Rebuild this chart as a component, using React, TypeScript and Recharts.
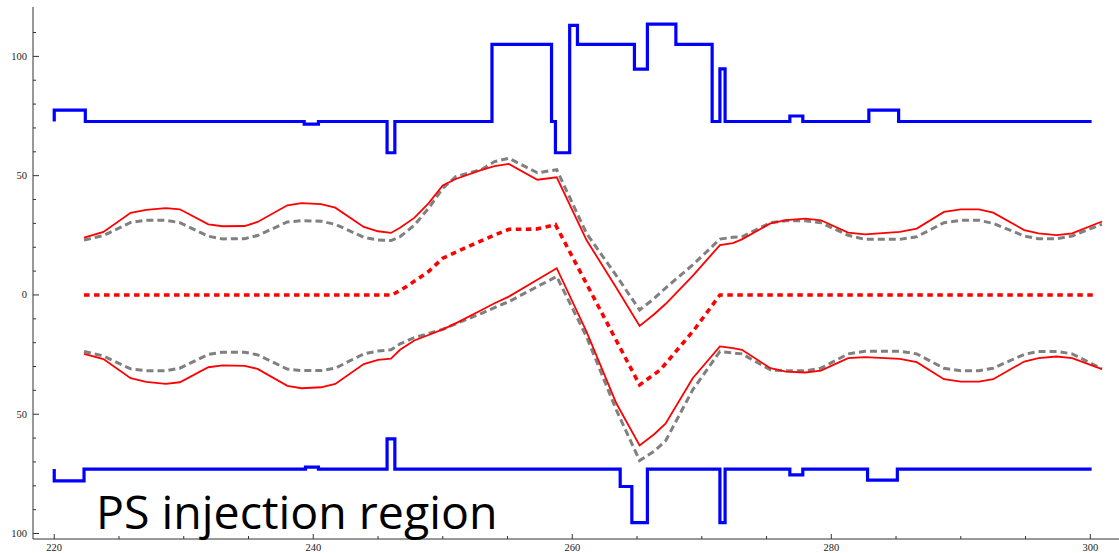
import React from 'react';
import { LineChart, Line, XAxis, YAxis } from 'recharts';

// lattice positions shared by the envelope curves
const envS = [
  222.3, 223.8, 225.9, 227.1, 228.6, 229.7, 231.9, 233.0, 234.7, 235.7, 238.0, 239.1, 240.6, 241.7,
  243.9, 245.0, 246.0, 246.7, 247.8, 248.9, 250.0, 251.0, 253.0, 254.0, 255.1, 257.3, 258.8, 261.1,
  263.4, 265.2, 266.3, 267.2, 269.3, 271.4, 272.4, 273.1, 275.3, 276.5, 278.0, 279.2, 281.3, 282.6,
  285.3, 286.6, 288.7, 290.0, 291.4, 292.5, 294.9, 296.0, 297.4, 298.6, 300.9,
];
const redUpper = [
  24.0, 26.4, 34.4, 35.7, 36.4, 35.9, 29.6, 28.8, 28.9, 30.6, 37.6, 38.5, 38.1, 36.6,
  28.5, 26.7, 26.0, 28.2, 32.3, 38.4, 45.9, 48.6, 52.4, 54.0, 54.9, 48.3, 49.3, 23.0,
  3.0, -13.0, -8.2, -3.8, 8.0, 20.9, 21.7, 23.3, 30.0, 31.4, 32.0, 31.3, 26.1, 25.4,
  26.4, 27.8, 34.8, 35.9, 35.9, 34.5, 27.2, 25.8, 25.1, 25.8, 30.8,
];
const grayUpper = [
  23.0, 24.9, 30.4, 31.3, 31.3, 30.3, 24.6, 23.5, 23.6, 24.9, 30.6, 31.1, 30.9, 29.6,
  24.2, 23.0, 22.8, 24.4, 29.2, 36.3, 44.7, 49.6, 52.6, 55.9, 57.3, 51.2, 52.5, 25.8,
  8.1, -6.3, -1.6, 2.9, 12.6, 23.4, 24.2, 24.4, 30.3, 31.1, 31.1, 30.3, 25.0, 23.3,
  23.3, 24.4, 30.3, 31.3, 31.3, 30.0, 24.7, 23.6, 23.6, 24.7, 29.7,
];
const redLower = [
  -24.7, -26.9, -34.9, -36.4, -37.3, -36.6, -30.3, -29.5, -29.7, -31.0, -38.1, -39.1, -38.7, -37.3,
  -29.0, -27.2, -26.7, -23.0, -19.1, -16.8, -14.4, -11.9, -6.3, -3.5, -0.7, 6.4, 11.2, -15.4,
  -45.4, -63.1, -58.5, -54.0, -34.9, -21.6, -22.3, -23.0, -30.7, -32.1, -32.5, -31.7, -26.5, -26.1,
  -26.8, -28.2, -35.3, -36.3, -36.3, -35.3, -27.9, -26.5, -25.8, -26.5, -31.1,
];
const grayLower = [
  -23.7, -25.6, -31.0, -31.8, -31.8, -30.7, -24.9, -24.0, -24.0, -25.1, -31.1, -31.7, -31.7, -30.7,
  -24.7, -23.5, -23.0, -20.5, -17.9, -16.2, -14.4, -12.1, -7.7, -5.3, -2.8, 3.5, 7.7, -17.5,
  -48.2, -69.4, -65.6, -61.2, -39.8, -23.7, -24.3, -24.7, -31.4, -31.8, -31.8, -30.7, -24.7, -23.6,
  -23.6, -24.7, -30.7, -31.8, -31.8, -30.7, -24.9, -23.7, -23.7, -24.7, -31.0,
];

// closed orbit (centre)
const orbitS = [222.3, 246.1, 247.2, 248.9, 250.0, 251.4, 253.0, 254.0, 255.1, 257.2, 258.7, 265.2, 266.8, 269.4, 271.4, 300.5];
const orbitY = [0, 0, 3.5, 9.8, 15.4, 18.9, 22.8, 25.1, 27.5, 27.6, 29.5, -37.7, -31.4, -14.7, 0, 0];

// aperture (step outlines)
const apUpperS = [220, 220, 222.4, 239.3, 240.4, 245.7, 246.3, 253.8, 258.4, 258.7, 259.8, 260.4, 264.8, 265.8, 268.0, 270.8, 271.4, 271.8, 276.8, 277.8, 282.9, 285.2, 300.1];
const apUpperY = [72.7, 77.5, 72.7, 71.6, 72.7, 59.6, 72.7, 105, 72.7, 59.6, 113, 105, 94.7, 113.5, 105, 72.7, 94.8, 72.7, 75, 72.7, 77.5, 72.7, 72.7];
const apLowerS = [220, 220, 222.3, 239.4, 240.4, 245.7, 246.3, 263.7, 264.6, 265.8, 271.4, 271.8, 276.8, 277.8, 282.8, 285.1, 300.1];
const apLowerY = [-73, -77.9, -73, -72.2, -73, -60.3, -73, -80.3, -95.4, -73, -95.4, -73, -75.4, -73, -77.6, -73, -73];

const xTicks = Array.from({ length: 17 }, (_, i) => 220 + i * 5);
const yTicks = Array.from({ length: 22 }, (_, i) => -100 + i * 10);

const zip = (s: number[], y: number[]) => s.map((x, i) => ({ x, y: y[i] }));

const axisColor = '#333';
const tickFont = { fontFamily: '"Liberation Serif", serif', fontSize: 10.5, fill: '#222' };

const BottomTick = ({ x, y, payload }: any) => {
  const major = payload.value % 20 === 0;
  return (
    <g>
      <line x1={x} x2={x} y1={y} y2={y - (major ? 5 : 3)} stroke={axisColor} />
      {major && (
        <text x={x} y={y + 12} textAnchor="middle" {...tickFont}>
          {payload.value}
        </text>
      )}
    </g>
  );
};

const TopTick = ({ x, y, payload }: any) => {
  const major = payload.value % 20 === 0;
  return <line x1={x} x2={x} y1={y} y2={y + (major ? 5 : 3)} stroke={axisColor} />;
};

const LeftTick = ({ x, y, payload }: any) => {
  const major = payload.value % 50 === 0;
  return (
    <g>
      <line x1={x} x2={x + (major ? 6 : 3)} y1={y} y2={y} stroke={axisColor} />
      {major && (
        <text x={x - 6} y={y + 3.5} textAnchor="end" {...tickFont}>
          {Math.abs(payload.value)}
        </text>
      )}
    </g>
  );
};

const RightTick = ({ x, y, payload }: any) => {
  const major = payload.value % 50 === 0;
  return <line x1={x} x2={x - (major ? 6 : 3)} y1={y} y2={y} stroke={axisColor} />;
};

const X_DOMAIN: [number, number] = [218.36, 302.37];
const Y_DOMAIN: [number, number] = [-102.3, 120.7];

export default function App() {
  return (
    <div style={{ position: 'fixed', left: 0, top: 0, width: 1119, height: 553, overflow: 'hidden', background: '#fff' }}>
      <LineChart width={1121} height={553} margin={{ top: 7, right: 0, bottom: 0, left: 0 }}>
        <XAxis
          dataKey="x"
          type="number"
          domain={X_DOMAIN}
          allowDataOverflow
          ticks={xTicks}
          interval={0}
          height={14}
          tickSize={0}
          tickMargin={0}
          tickLine={false}
          axisLine={{ stroke: axisColor }}
          tick={<BottomTick />}
        />
        <XAxis
          xAxisId="top"
          orientation="top"
          dataKey="x"
          type="number"
          domain={X_DOMAIN}
          allowDataOverflow
          ticks={xTicks}
          interval={0}
          height={0}
          tickSize={0}
          tickMargin={0}
          tickLine={false}
          axisLine={{ stroke: axisColor }}
          tick={<TopTick />}
        />
        <YAxis
          type="number"
          domain={Y_DOMAIN}
          allowDataOverflow
          ticks={yTicks}
          interval={0}
          width={33}
          tickSize={0}
          tickMargin={0}
          tickLine={false}
          axisLine={{ stroke: axisColor }}
          tick={<LeftTick />}
        />
        <YAxis
          yAxisId="right"
          orientation="right"
          type="number"
          domain={Y_DOMAIN}
          allowDataOverflow
          ticks={yTicks}
          interval={0}
          width={0}
          tickSize={0}
          tickMargin={0}
          tickLine={false}
          axisLine={{ stroke: axisColor }}
          tick={<RightTick />}
        />

        <Line data={zip(apUpperS, apUpperY)} dataKey="y" type="stepAfter" stroke="#0000ff" strokeWidth={3.2} dot={false} isAnimationActive={false} />
        <Line data={zip(apLowerS, apLowerY)} dataKey="y" type="stepAfter" stroke="#0000ff" strokeWidth={3.2} dot={false} isAnimationActive={false} />

        <Line data={zip(envS, grayUpper)} dataKey="y" type="linear" stroke="#808080" strokeWidth={3} strokeDasharray="7 4" dot={false} isAnimationActive={false} />
        <Line data={zip(envS, grayLower)} dataKey="y" type="linear" stroke="#808080" strokeWidth={3} strokeDasharray="7 4" dot={false} isAnimationActive={false} />

        <Line data={zip(envS, redUpper)} dataKey="y" type="linear" stroke="#ff0000" strokeWidth={1.8} dot={false} isAnimationActive={false} />
        <Line data={zip(envS, redLower)} dataKey="y" type="linear" stroke="#ff0000" strokeWidth={1.8} dot={false} isAnimationActive={false} />

        <Line data={zip(orbitS, orbitY)} dataKey="y" type="linear" stroke="#ff0000" strokeWidth={3.6} strokeDasharray="5.5 4.5" dot={false} isAnimationActive={false} />
      </LineChart>
      <svg width={1119} height={553} style={{ position: 'absolute', left: 0, top: 0, pointerEvents: 'none' }}>
        <text x={96} y={529} fontFamily='"Open Sans", sans-serif' fontSize={46.5} fill="#000">
          PS injection region
        </text>
      </svg>
    </div>
  );
}
